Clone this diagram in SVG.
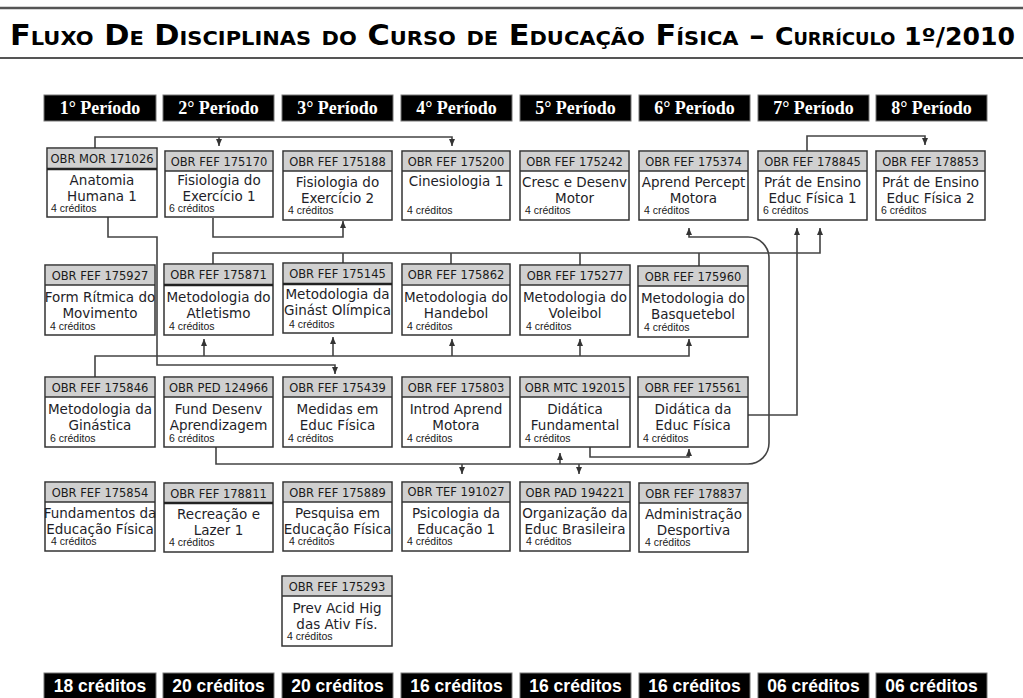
<svg xmlns="http://www.w3.org/2000/svg" width="1023" height="698" viewBox="0 0 1023 698">
<style>
.box{fill:#fff;stroke:#333;stroke-width:1.5}
.hd{fill:#d0d0d0}
.sep{stroke:#333;stroke-width:1.5}
.sep2{stroke:#222;stroke-width:2.5}
.code{font-family:"DejaVu Sans",sans-serif;font-size:11.5px;fill:#1a1a1a;text-anchor:middle}
.t{font-family:"DejaVu Sans",sans-serif;font-size:13.5px;fill:#1e1e28;text-anchor:middle}
.cr{font-family:"Liberation Sans",sans-serif;font-size:10.5px;fill:#1a1a1a}
.blk{fill:#000;stroke:#777;stroke-width:1}
.pt{font-family:"Liberation Serif",serif;font-weight:bold;font-size:18px;fill:#fff;text-anchor:middle}
.ft{font-family:"Liberation Sans",sans-serif;font-weight:bold;font-size:17.5px;fill:#fff;text-anchor:middle}
.cn path{fill:none;stroke:#444;stroke-width:1.6}
.rule{stroke:#555;fill:none}
</style>
<defs>
<marker id="ah" markerUnits="userSpaceOnUse" markerWidth="8" markerHeight="8" refX="7" refY="3" orient="auto"><path d="M0,0 L7,3 L0,6 z" fill="#333"/></marker>
</defs>
<rect width="1023" height="698" fill="#fff"/>

<g id="title">
<line class="rule" x1="0" y1="8" x2="1023" y2="8" stroke-width="2.5"/>
<line class="rule" x1="0" y1="58" x2="1023" y2="58" stroke-width="2"/>
<text x="10" y="45" textLength="1005" lengthAdjust="spacingAndGlyphs" font-family="DejaVu Sans, sans-serif" font-weight="bold" font-size="29" font-variant="small-caps" fill="#000">Fluxo De Disciplinas do Curso de Educação Física – <tspan font-size="24">Currículo 1º/2010</tspan></text>
</g>

<g id="periods">
<rect class="blk" x="44" y="95" width="112" height="26"/><text class="pt" x="100" y="114">1° Período</text>
<rect class="blk" x="163" y="95" width="111" height="26"/><text class="pt" x="218.5" y="114">2° Período</text>
<rect class="blk" x="282" y="95" width="111" height="26"/><text class="pt" x="337.5" y="114">3° Período</text>
<rect class="blk" x="401" y="95" width="111" height="26"/><text class="pt" x="456.5" y="114">4° Período</text>
<rect class="blk" x="520" y="95" width="111" height="26"/><text class="pt" x="575.5" y="114">5° Período</text>
<rect class="blk" x="639" y="95" width="111" height="26"/><text class="pt" x="694.5" y="114">6° Período</text>
<rect class="blk" x="758" y="95" width="111" height="26"/><text class="pt" x="813.5" y="114">7° Período</text>
<rect class="blk" x="876" y="95" width="111" height="26"/><text class="pt" x="931.5" y="114">8° Período</text>
</g>

<g id="totals">
<rect class="blk" x="44" y="673" width="112" height="27"/><text class="ft" x="100" y="692">18 créditos</text>
<rect class="blk" x="163" y="673" width="111" height="27"/><text class="ft" x="218.5" y="692">20 créditos</text>
<rect class="blk" x="282" y="673" width="111" height="27"/><text class="ft" x="337.5" y="692">20 créditos</text>
<rect class="blk" x="401" y="673" width="111" height="27"/><text class="ft" x="456.5" y="692">16 créditos</text>
<rect class="blk" x="520" y="673" width="111" height="27"/><text class="ft" x="575.5" y="692">16 créditos</text>
<rect class="blk" x="639" y="673" width="111" height="27"/><text class="ft" x="694.5" y="692">16 créditos</text>
<rect class="blk" x="758" y="673" width="111" height="27"/><text class="ft" x="813.5" y="692">06 créditos</text>
<rect class="blk" x="876" y="673" width="111" height="27"/><text class="ft" x="931.5" y="692">06 créditos</text>
</g>

<g class="cn" id="connectors">
<path d="M95,148 V137 H452 V146" marker-end="url(#ah)"/>
<path d="M219,137 V146" marker-end="url(#ah)"/>
<path d="M213,218 V237 H343 V221" marker-end="url(#ah)"/>
<path d="M108,217 V237 H157 V365 H335 V374" marker-end="url(#ah)"/>
<path d="M213,264 V253 H820 V228" marker-end="url(#ah)"/>
<path d="M343,263 V253 M451,264 V253 M580,265 V253 M699,266 V253"/>
<path d="M748,415 H797 V228" marker-end="url(#ah)"/>
<path d="M807,151 V136 H925 V145" marker-end="url(#ah)"/>
<path d="M216,447 V464 H748 A21,21 0 0 0 769,443 V258 A21,21 0 0 0 748,237 H689 V228" marker-end="url(#ah)"/>
<path d="M462,464 V474" marker-end="url(#ah)"/>
<path d="M579,464 V474" marker-end="url(#ah)"/>
<path d="M560,464 V453" marker-end="url(#ah)"/>
<path d="M590,447 V457 H689 V449" marker-end="url(#ah)"/>
<path d="M95,377 V356 H689 V339" marker-end="url(#ah)"/>
<path d="M204,356 V339" marker-end="url(#ah)"/>
<path d="M333,356 V337" marker-end="url(#ah)"/>
<path d="M452,356 V339" marker-end="url(#ah)"/>
<path d="M580,356 V339" marker-end="url(#ah)"/>
</g>

<!-- Row 1 -->
<g id="n171026"><rect class="box" x="47" y="148" width="110" height="69"/><rect class="hd" x="48" y="149" width="108" height="19"/><line class="sep2" x1="47" y1="169" x2="157" y2="169"/><text class="code" x="102" y="163">OBR MOR 171026</text><text class="t" x="102" y="185">Anatomia</text><text class="t" x="102" y="201">Humana 1</text><text class="cr" x="51" y="212">4 créditos</text></g>
<g id="n175170"><rect class="box" x="165" y="151" width="108" height="66"/><rect class="hd" x="166" y="152" width="106" height="19"/><line class="sep" x1="165" y1="171" x2="273" y2="171"/><text class="code" x="219" y="165.5">OBR FEF 175170</text><text class="t" x="219" y="185">Fisiologia do</text><text class="t" x="219" y="201">Exercício 1</text><text class="cr" x="169" y="212">6 créditos</text></g>
<g id="n175188"><rect class="box" x="283" y="151" width="109" height="69"/><rect class="hd" x="284" y="152" width="107" height="19"/><line class="sep" x1="283" y1="171" x2="392" y2="171"/><text class="code" x="337.5" y="165.5">OBR FEF 175188</text><text class="t" x="337.5" y="187">Fisiologia do</text><text class="t" x="337.5" y="203">Exercício 2</text><text class="cr" x="288" y="214">4 créditos</text></g>
<g id="n175200"><rect class="box" x="402" y="151" width="108" height="69"/><rect class="hd" x="403" y="152" width="106" height="19"/><line class="sep" x1="402" y1="171" x2="510" y2="171"/><text class="code" x="456" y="165.5">OBR FEF 175200</text><text class="t" x="456" y="186">Cinesiologia 1</text><text class="cr" x="407" y="214">4 créditos</text></g>
<g id="n175242"><rect class="box" x="520" y="151" width="109" height="69"/><rect class="hd" x="521" y="152" width="107" height="19"/><line class="sep" x1="520" y1="171" x2="629" y2="171"/><text class="code" x="574.5" y="165.5">OBR FEF 175242</text><text class="t" x="574.5" y="187">Cresc e Desenv</text><text class="t" x="574.5" y="203">Motor</text><text class="cr" x="525" y="214">4 créditos</text></g>
<g id="n175374"><rect class="box" x="639" y="151" width="109" height="69"/><rect class="hd" x="640" y="152" width="107" height="19"/><line class="sep" x1="639" y1="171" x2="748" y2="171"/><text class="code" x="693.5" y="165.5">OBR FEF 175374</text><text class="t" x="693.5" y="187">Aprend Percept</text><text class="t" x="693.5" y="203">Motora</text><text class="cr" x="644" y="214">4 créditos</text></g>
<g id="n178845"><rect class="box" x="758" y="151" width="109" height="69"/><rect class="hd" x="759" y="152" width="107" height="19"/><line class="sep" x1="758" y1="171" x2="867" y2="171"/><text class="code" x="812.5" y="165.5">OBR FEF 178845</text><text class="t" x="812.5" y="187">Prát de Ensino</text><text class="t" x="812.5" y="203">Educ Física 1</text><text class="cr" x="763" y="214">6 créditos</text></g>
<g id="n178853"><rect class="box" x="876" y="151" width="109" height="69"/><rect class="hd" x="877" y="152" width="107" height="19"/><line class="sep" x1="876" y1="171" x2="985" y2="171"/><text class="code" x="930.5" y="165.5">OBR FEF 178853</text><text class="t" x="930.5" y="187">Prát de Ensino</text><text class="t" x="930.5" y="203">Educ Física 2</text><text class="cr" x="881" y="214">6 créditos</text></g>

<!-- Row 2 -->
<g id="n175927"><rect class="box" x="45" y="265" width="110" height="70"/><rect class="hd" x="46" y="266" width="108" height="19"/><line class="sep" x1="45" y1="285" x2="155" y2="285"/><text class="code" x="100" y="279.5">OBR FEF 175927</text><text class="t" x="100" y="302">Form Rítmica do</text><text class="t" x="100" y="318">Movimento</text><text class="cr" x="50" y="330">4 créditos</text></g>
<g id="n175871"><rect class="box" x="164" y="264" width="109" height="71"/><rect class="hd" x="165" y="265" width="107" height="19"/><line class="sep2" x1="164" y1="285" x2="273" y2="285"/><text class="code" x="218.5" y="279">OBR FEF 175871</text><text class="t" x="218.5" y="302">Metodologia do</text><text class="t" x="218.5" y="318">Atletismo</text><text class="cr" x="169" y="330">4 créditos</text></g>
<g id="n175145"><rect class="box" x="283" y="263" width="109" height="70"/><rect class="hd" x="284" y="264" width="107" height="19"/><line class="sep2" x1="283" y1="284" x2="392" y2="284"/><text class="code" x="337.5" y="278">OBR FEF 175145</text><text class="t" x="337.5" y="299">Metodologia da</text><text class="t" x="337.5" y="315">Ginást Olímpica</text><text class="cr" x="289" y="328">4 créditos</text></g>
<g id="n175862"><rect class="box" x="402" y="264" width="108" height="71"/><rect class="hd" x="403" y="265" width="106" height="19"/><line class="sep" x1="402" y1="285" x2="510" y2="285"/><text class="code" x="456" y="279">OBR FEF 175862</text><text class="t" x="456" y="302">Metodologia do</text><text class="t" x="456" y="318">Handebol</text><text class="cr" x="407" y="330">4 créditos</text></g>
<g id="n175277"><rect class="box" x="520" y="265" width="110" height="70"/><rect class="hd" x="521" y="266" width="108" height="19"/><line class="sep" x1="520" y1="285" x2="630" y2="285"/><text class="code" x="575" y="280">OBR FEF 175277</text><text class="t" x="575" y="302">Metodologia do</text><text class="t" x="575" y="318">Voleibol</text><text class="cr" x="526" y="330">4 créditos</text></g>
<g id="n175960"><rect class="box" x="638" y="266" width="110" height="71"/><rect class="hd" x="639" y="267" width="108" height="19"/><line class="sep" x1="638" y1="286" x2="748" y2="286"/><text class="code" x="693" y="281">OBR FEF 175960</text><text class="t" x="693" y="303">Metodologia do</text><text class="t" x="693" y="319">Basquetebol</text><text class="cr" x="644" y="331">4 créditos</text></g>

<!-- Row 3 -->
<g id="n175846"><rect class="box" x="45" y="377" width="110" height="70"/><rect class="hd" x="46" y="378" width="108" height="19"/><line class="sep" x1="45" y1="397" x2="155" y2="397"/><text class="code" x="100" y="392">OBR FEF 175846</text><text class="t" x="100" y="414">Metodologia da</text><text class="t" x="100" y="430">Ginástica</text><text class="cr" x="50" y="442">6 créditos</text></g>
<g id="n124966"><rect class="box" x="164" y="377" width="109" height="70"/><rect class="hd" x="165" y="378" width="107" height="19"/><line class="sep" x1="164" y1="397" x2="273" y2="397"/><text class="code" x="218.5" y="392">OBR PED 124966</text><text class="t" x="218.5" y="414">Fund Desenv</text><text class="t" x="218.5" y="430">Aprendizagem</text><text class="cr" x="169" y="442">6 créditos</text></g>
<g id="n175439"><rect class="box" x="283" y="377" width="109" height="70"/><rect class="hd" x="284" y="378" width="107" height="19"/><line class="sep" x1="283" y1="397" x2="392" y2="397"/><text class="code" x="337.5" y="392">OBR FEF 175439</text><text class="t" x="337.5" y="414">Medidas em</text><text class="t" x="337.5" y="430">Educ Física</text><text class="cr" x="288" y="442">4 créditos</text></g>
<g id="n175803"><rect class="box" x="402" y="377" width="108" height="70"/><rect class="hd" x="403" y="378" width="106" height="19"/><line class="sep" x1="402" y1="397" x2="510" y2="397"/><text class="code" x="456" y="392">OBR FEF 175803</text><text class="t" x="456" y="414">Introd Aprend</text><text class="t" x="456" y="430">Motora</text><text class="cr" x="407" y="442">4 créditos</text></g>
<g id="n192015"><rect class="box" x="520" y="377" width="110" height="70"/><rect class="hd" x="521" y="378" width="108" height="19"/><line class="sep" x1="520" y1="397" x2="630" y2="397"/><text class="code" x="575" y="392">OBR MTC 192015</text><text class="t" x="575" y="414">Didática</text><text class="t" x="575" y="430">Fundamental</text><text class="cr" x="525" y="442">4 créditos</text></g>
<g id="n175561"><rect class="box" x="638" y="377" width="110" height="70"/><rect class="hd" x="639" y="378" width="108" height="19"/><line class="sep" x1="638" y1="397" x2="748" y2="397"/><text class="code" x="693" y="392">OBR FEF 175561</text><text class="t" x="693" y="414">Didática da</text><text class="t" x="693" y="430">Educ Física</text><text class="cr" x="643" y="442">4 créditos</text></g>

<!-- Row 4 -->
<g id="n175854"><rect class="box" x="45" y="482" width="110" height="69"/><rect class="hd" x="46" y="483" width="108" height="19"/><line class="sep" x1="45" y1="502" x2="155" y2="502"/><text class="code" x="100" y="497">OBR FEF 175854</text><text class="t" x="100" y="518">Fundamentos da</text><text class="t" x="100" y="534">Educação Física</text><text class="cr" x="51" y="545">4 créditos</text></g>
<g id="n178811"><rect class="box" x="164" y="483" width="109" height="69"/><rect class="hd" x="165" y="484" width="107" height="18"/><line class="sep2" x1="164" y1="503" x2="273" y2="503"/><text class="code" x="218.5" y="498">OBR FEF 178811</text><text class="t" x="218.5" y="519">Recreação e</text><text class="t" x="218.5" y="535">Lazer 1</text><text class="cr" x="169" y="546">4 créditos</text></g>
<g id="n175889"><rect class="box" x="283" y="482" width="109" height="69"/><rect class="hd" x="284" y="483" width="107" height="19"/><line class="sep" x1="283" y1="502" x2="392" y2="502"/><text class="code" x="337.5" y="497">OBR FEF 175889</text><text class="t" x="337.5" y="518">Pesquisa em</text><text class="t" x="337.5" y="534">Educação Física</text><text class="cr" x="289" y="545">4 créditos</text></g>
<g id="n191027"><rect class="box" x="402" y="482" width="108" height="69"/><rect class="hd" x="403" y="483" width="106" height="19"/><line class="sep" x1="402" y1="502" x2="510" y2="502"/><text class="code" x="456" y="496">OBR TEF 191027</text><text class="t" x="456" y="518">Psicologia da</text><text class="t" x="456" y="534">Educação 1</text><text class="cr" x="407" y="545">4 créditos</text></g>
<g id="n194221"><rect class="box" x="520" y="482" width="110" height="69"/><rect class="hd" x="521" y="483" width="108" height="19"/><line class="sep" x1="520" y1="502" x2="630" y2="502"/><text class="code" x="575" y="497">OBR PAD 194221</text><text class="t" x="575" y="518">Organização da</text><text class="t" x="575" y="534">Educ Brasileira</text><text class="cr" x="526" y="545">4 créditos</text></g>
<g id="n178837"><rect class="box" x="639" y="483" width="109" height="69"/><rect class="hd" x="640" y="484" width="107" height="19"/><line class="sep" x1="639" y1="503" x2="748" y2="503"/><text class="code" x="693.5" y="498">OBR FEF 178837</text><text class="t" x="693.5" y="519">Administração</text><text class="t" x="693.5" y="535">Desportiva</text><text class="cr" x="645" y="546">4 créditos</text></g>

<!-- Row 5 -->
<g id="n175293"><rect class="box" x="282" y="576" width="110" height="70"/><rect class="hd" x="283" y="577" width="108" height="19"/><line class="sep" x1="282" y1="596" x2="392" y2="596"/><text class="code" x="337" y="591">OBR FEF 175293</text><text class="t" x="337" y="613">Prev Acid Hig</text><text class="t" x="337" y="629">das Ativ Fís.</text><text class="cr" x="287" y="640">4 créditos</text></g>
</svg>
